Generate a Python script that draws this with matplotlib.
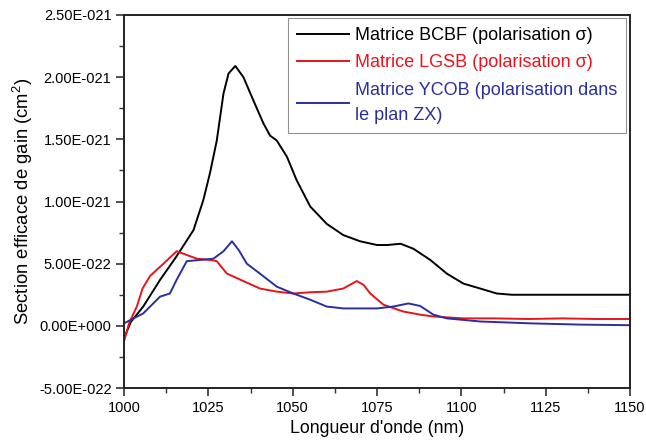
import matplotlib
matplotlib.use("Agg")
import matplotlib.pyplot as plt
from matplotlib.ticker import FixedLocator, FuncFormatter

plt.rcParams['font.family'] = ['Liberation Sans', 'DejaVu Sans']
plt.rcParams['mathtext.fontset'] = 'custom'
plt.rcParams['mathtext.rm'] = 'Liberation Sans'

# Data (values in units of 1e-22 cm^2)
bcbf_x = [1000, 1002, 1005.7, 1010.7, 1015.6, 1020.6, 1023.5, 1025.5, 1027.5, 1029.5, 1031, 1033,
          1035.4, 1038.4, 1041.3, 1043.3, 1045.3, 1048.3, 1051.2, 1055.2, 1060.1, 1065, 1070, 1075,
          1078, 1082, 1085.8, 1090.8, 1095.7, 1100.6, 1105.6, 1110.5, 1115, 1120, 1130, 1140, 1150]
bcbf_y = [-1.0, 0.3, 1.55, 3.7, 5.6, 7.7, 10.1, 12.3, 14.9, 18.7, 20.3, 20.9,
          20.0, 18.1, 16.3, 15.3, 14.9, 13.6, 11.7, 9.6, 8.2, 7.3, 6.8, 6.5,
          6.5, 6.6, 6.2, 5.3, 4.2, 3.4, 3.0, 2.6, 2.5, 2.5, 2.5, 2.5, 2.5]

lgsb_x = [1000, 1001.5, 1003.8, 1005.5, 1007.7, 1011.7, 1015.6, 1018.6, 1021.6, 1025.5, 1027.5, 1030.5,
          1035.4, 1040.3, 1045.3, 1050.2, 1055.2, 1060.1, 1065, 1067, 1069, 1071, 1073, 1076.9,
          1082.8, 1087.8, 1091.7, 1100.6, 1110, 1120, 1130, 1140, 1150]
lgsb_y = [-1.26, 0.2, 1.55, 3.0, 4.0, 5.0, 6.0, 5.7, 5.4, 5.3, 5.2, 4.2,
          3.6, 3.0, 2.75, 2.6, 2.7, 2.75, 3.0, 3.3, 3.6, 3.3, 2.6, 1.7,
          1.15, 0.9, 0.75, 0.6, 0.6, 0.55, 0.6, 0.55, 0.55]

ycob_x = [1000, 1005.7, 1010.7, 1013.6, 1015.6, 1018.6, 1022.6, 1026.5, 1029.5, 1032, 1034,
          1036.4, 1040.3, 1045.3, 1050.2, 1055.2, 1060.1, 1065, 1070, 1075, 1079.8, 1084.3,
          1087.8, 1091.7, 1095.7, 1105.6, 1120.4, 1135, 1150]
ycob_y = [0.2, 1.0, 2.35, 2.6, 3.7, 5.2, 5.3, 5.4, 6.0, 6.8, 6.1,
          5.0, 4.2, 3.15, 2.6, 2.1, 1.55, 1.4, 1.4, 1.4, 1.55, 1.8,
          1.6, 0.9, 0.6, 0.35, 0.2, 0.1, 0.05]

labels = ["Matrice BCBF (polarisation σ)",
          "Matrice LGSB (polarisation σ)",
          "Matrice YCOB (polarisation dans\nle plan ZX)"]
colors = ["#000000", "#e8141c", "#2a2fa0"]

x_ticks = [1000, 1025, 1050, 1075, 1100, 1125, 1150]
x_minor = [1012.5, 1037.5, 1062.5, 1087.5, 1112.5, 1137.5]
y_ticks = [-5e-22, 0.0, 5e-22, 1e-21, 1.5e-21, 2e-21, 2.5e-21]
y_minor = [-2.5e-22, 2.5e-22, 7.5e-22, 1.25e-21, 1.75e-21, 2.25e-21]

scale = 1e-22

fig = plt.figure(figsize=(6.46, 4.42), dpi=100)
ax = fig.add_axes([124/646, 54/442, 506/646, 373/442])

for xs, ys, c, lab in zip([bcbf_x, lgsb_x, ycob_x], [bcbf_y, lgsb_y, ycob_y], colors, labels):
    ax.plot(xs, [v * scale for v in ys], color=c, lw=1.4, label=lab)

ax.set_xlim(1000, 1150)
ax.set_ylim(-5e-22, 2.5e-21)
ax.xaxis.set_major_locator(FixedLocator(x_ticks))
ax.xaxis.set_minor_locator(FixedLocator(x_minor))
ax.yaxis.set_major_locator(FixedLocator(y_ticks))
ax.yaxis.set_minor_locator(FixedLocator(y_minor))

def yfmt(v, pos):
    if abs(v) < 1e-30:
        return "0.00E+000"
    s = "%.2E" % v
    mant, exp = s.split("E")
    sign = exp[0]
    num = int(exp[1:])
    return "%sE%s%03d" % (mant, sign, num)

ax.yaxis.set_major_formatter(FuncFormatter(yfmt))
ax.tick_params(which='major', direction='out', length=6, width=1.2, labelsize=10.5,
               color='#333333', pad=3)
ax.tick_params(which='minor', direction='out', length=3.5, width=1.0, color='#333333')
ax.tick_params(top=False, right=False, which='both')
for sp in ax.spines.values():
    sp.set_linewidth(1.4)
    sp.set_color('#222222')

ax.set_xlabel("Longueur d'onde (nm)", fontsize=12.8, labelpad=4)
ax.set_ylabel("Section efficace de gain (cm$^2$)", fontsize=13.3, labelpad=3)

leg = ax.legend(loc='upper left', bbox_to_anchor=(0.324, 0.992), borderaxespad=0,
                fontsize=13, frameon=True, fancybox=False, edgecolor='#777777',
                handlelength=2.9, handletextpad=0.3, labelspacing=0.58,
                borderpad=0.5)
leg.get_frame().set_linewidth(0.8)
for t, c in zip(leg.get_texts(), colors):
    t.set_color(c)
    t.set_linespacing(1.65)

fig.savefig("out.png", dpi=100)
